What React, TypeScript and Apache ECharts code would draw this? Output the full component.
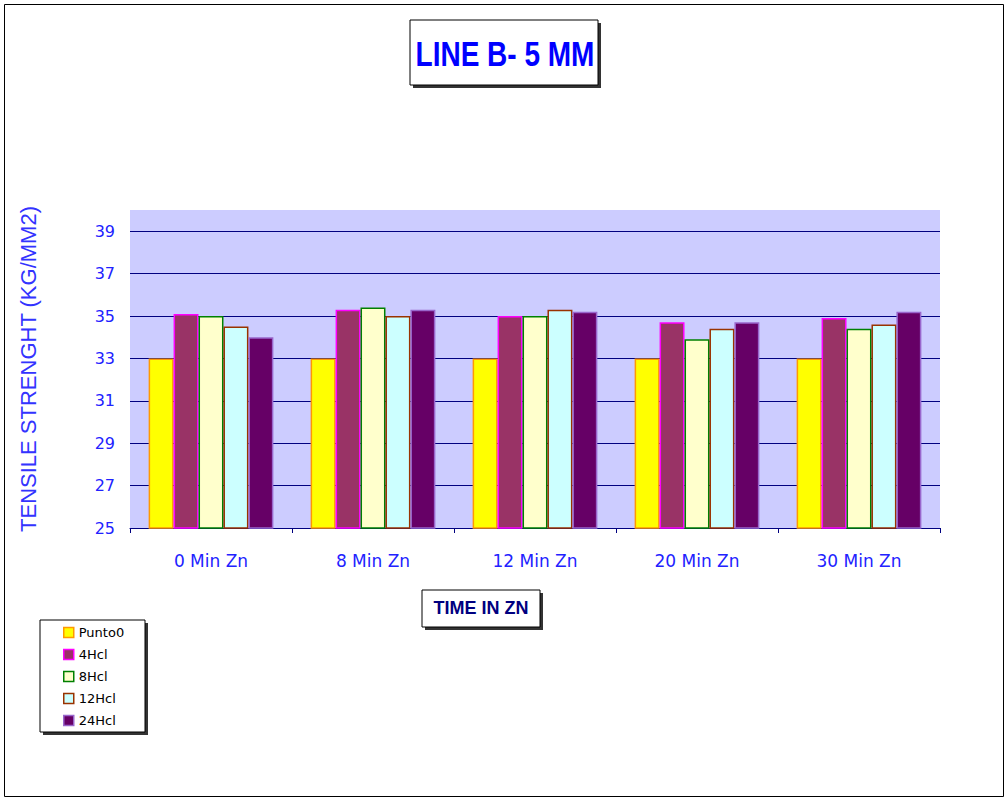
import React, { useEffect, useRef } from "react";
import * as echarts from "echarts";

const categories = ["0 Min Zn", "8 Min Zn", "12 Min Zn", "20 Min Zn", "30 Min Zn"];
const seriesNames = ["Punto0", "4Hcl", "8Hcl", "12Hcl", "24Hcl"];
const punto0 = [33, 33, 33, 33, 33];
const hcl4 = [35.1, 35.3, 35.0, 34.7, 34.9];
const hcl8 = [35.0, 35.4, 35.0, 33.9, 34.4];
const hcl12 = [34.5, 35.0, 35.3, 34.4, 34.6];
const hcl24 = [34.0, 35.3, 35.2, 34.7, 35.2];
const seriesValues = [punto0, hcl4, hcl8, hcl12, hcl24];
const fills = ["#ffff00", "#993366", "#ffffcc", "#ccffff", "#660066"];
const borders = ["#ff9900", "#ff00ff", "#008000", "#993300", "#9966cc"];

export default function App() {
  const ref = useRef<HTMLDivElement>(null);
  useEffect(() => {
    if (!ref.current) return;
    const chart = echarts.init(ref.current, undefined, { renderer: "svg" });
    const boxWithShadow = (x: number, y: number, w: number, h: number) => [
      { type: "rect", shape: { x: x + 3, y: y + 3, width: w, height: h }, style: { fill: "#333333" }, z: 1 },
      { type: "rect", shape: { x, y, width: w, height: h }, style: { fill: "#ffffff", stroke: "#000000", lineWidth: 1 }, z: 2 },
    ];
    chart.setOption({
      animation: false,
      backgroundColor: "#ffffff",
      grid: {
        left: 130,
        right: 67,
        top: 210,
        bottom: 271,
        show: true,
        backgroundColor: "#ccccff",
        borderWidth: 0,
      },
      xAxis: {
        type: "category",
        data: categories,
        axisLine: { show: true, lineStyle: { color: "#000080", width: 1 } },
        axisTick: { show: true, length: 5, lineStyle: { color: "#000080" } },
        axisLabel: { color: "#2222ff", fontFamily: "DejaVu Sans", fontSize: 17, margin: 24 },
      },
      yAxis: {
        type: "value",
        min: 25,
        max: 40,
        interval: 2,
        name: "TENSILE STRENGHT (KG/MM2)",
        nameLocation: "middle",
        nameGap: 91,
        nameTextStyle: { color: "#3333ff", fontFamily: "Liberation Sans", fontSize: 22 },
        axisLine: { show: false },
        axisTick: { show: false },
        axisLabel: {
          color: "#2222ff",
          fontFamily: "DejaVu Sans",
          fontSize: 16,
          margin: 15,
          formatter: (v: number) => (v === 40 ? "" : String(v)),
        },
        splitLine: {
          show: true,
          lineStyle: {
            color: ["#000080", "#000080", "#000080", "#000080", "#000080", "#000080", "#000080", "#000080", "rgba(0,0,0,0)"],
            width: 1,
          },
        },
      },
      legend: {
        orient: "vertical",
        left: 58,
        top: 621,
        itemWidth: 10,
        itemHeight: 10,
        itemGap: 9,
        textStyle: { fontFamily: "DejaVu Sans", fontSize: 13, color: "#000000" },
        data: seriesNames.map((n, i) => ({
          name: n,
          icon: "rect",
          itemStyle: { color: fills[i], borderColor: borders[i], borderWidth: 1.5 },
        })),
        z: 10,
      },
      series: seriesNames.map((n, i) => ({
        name: n,
        type: "bar",
        data: seriesValues[i],
        barGap: "0%",
        barCategoryGap: "23%",
        itemStyle: { color: fills[i], borderColor: borders[i], borderWidth: 1.5 },
      })),
      graphic: [
        ...boxWithShadow(410, 20, 188, 65),
        {
          type: "text",
          x: 505,
          y: 54,
          z: 3,
          scaleX: 0.8,
          style: {
            text: "LINE B- 5 MM",
            fill: "#0000ff",
            font: "bold 35px 'Liberation Sans'",
            textAlign: "center",
            textVerticalAlign: "middle",
          },
        },
        ...boxWithShadow(422, 590, 118, 37),
        {
          type: "text",
          x: 481,
          y: 608,
          z: 3,
          style: {
            text: "TIME IN ZN",
            fill: "#000080",
            font: "bold 18px 'Liberation Sans'",
            textAlign: "center",
            textVerticalAlign: "middle",
          },
        },
        ...boxWithShadow(40, 620, 105, 112),
        {
          type: "rect",
          shape: { x: 4.5, y: 4.5, width: 999, height: 792 },
          style: { fill: "none", stroke: "#000000", lineWidth: 1 },
          z: 0,
        },
      ],
    });
    return () => chart.dispose();
  }, []);
  return (
    <div
      ref={ref}
      style={{ position: "fixed", left: 0, top: 0, width: 1007, height: 799 }}
    />
  );
}
